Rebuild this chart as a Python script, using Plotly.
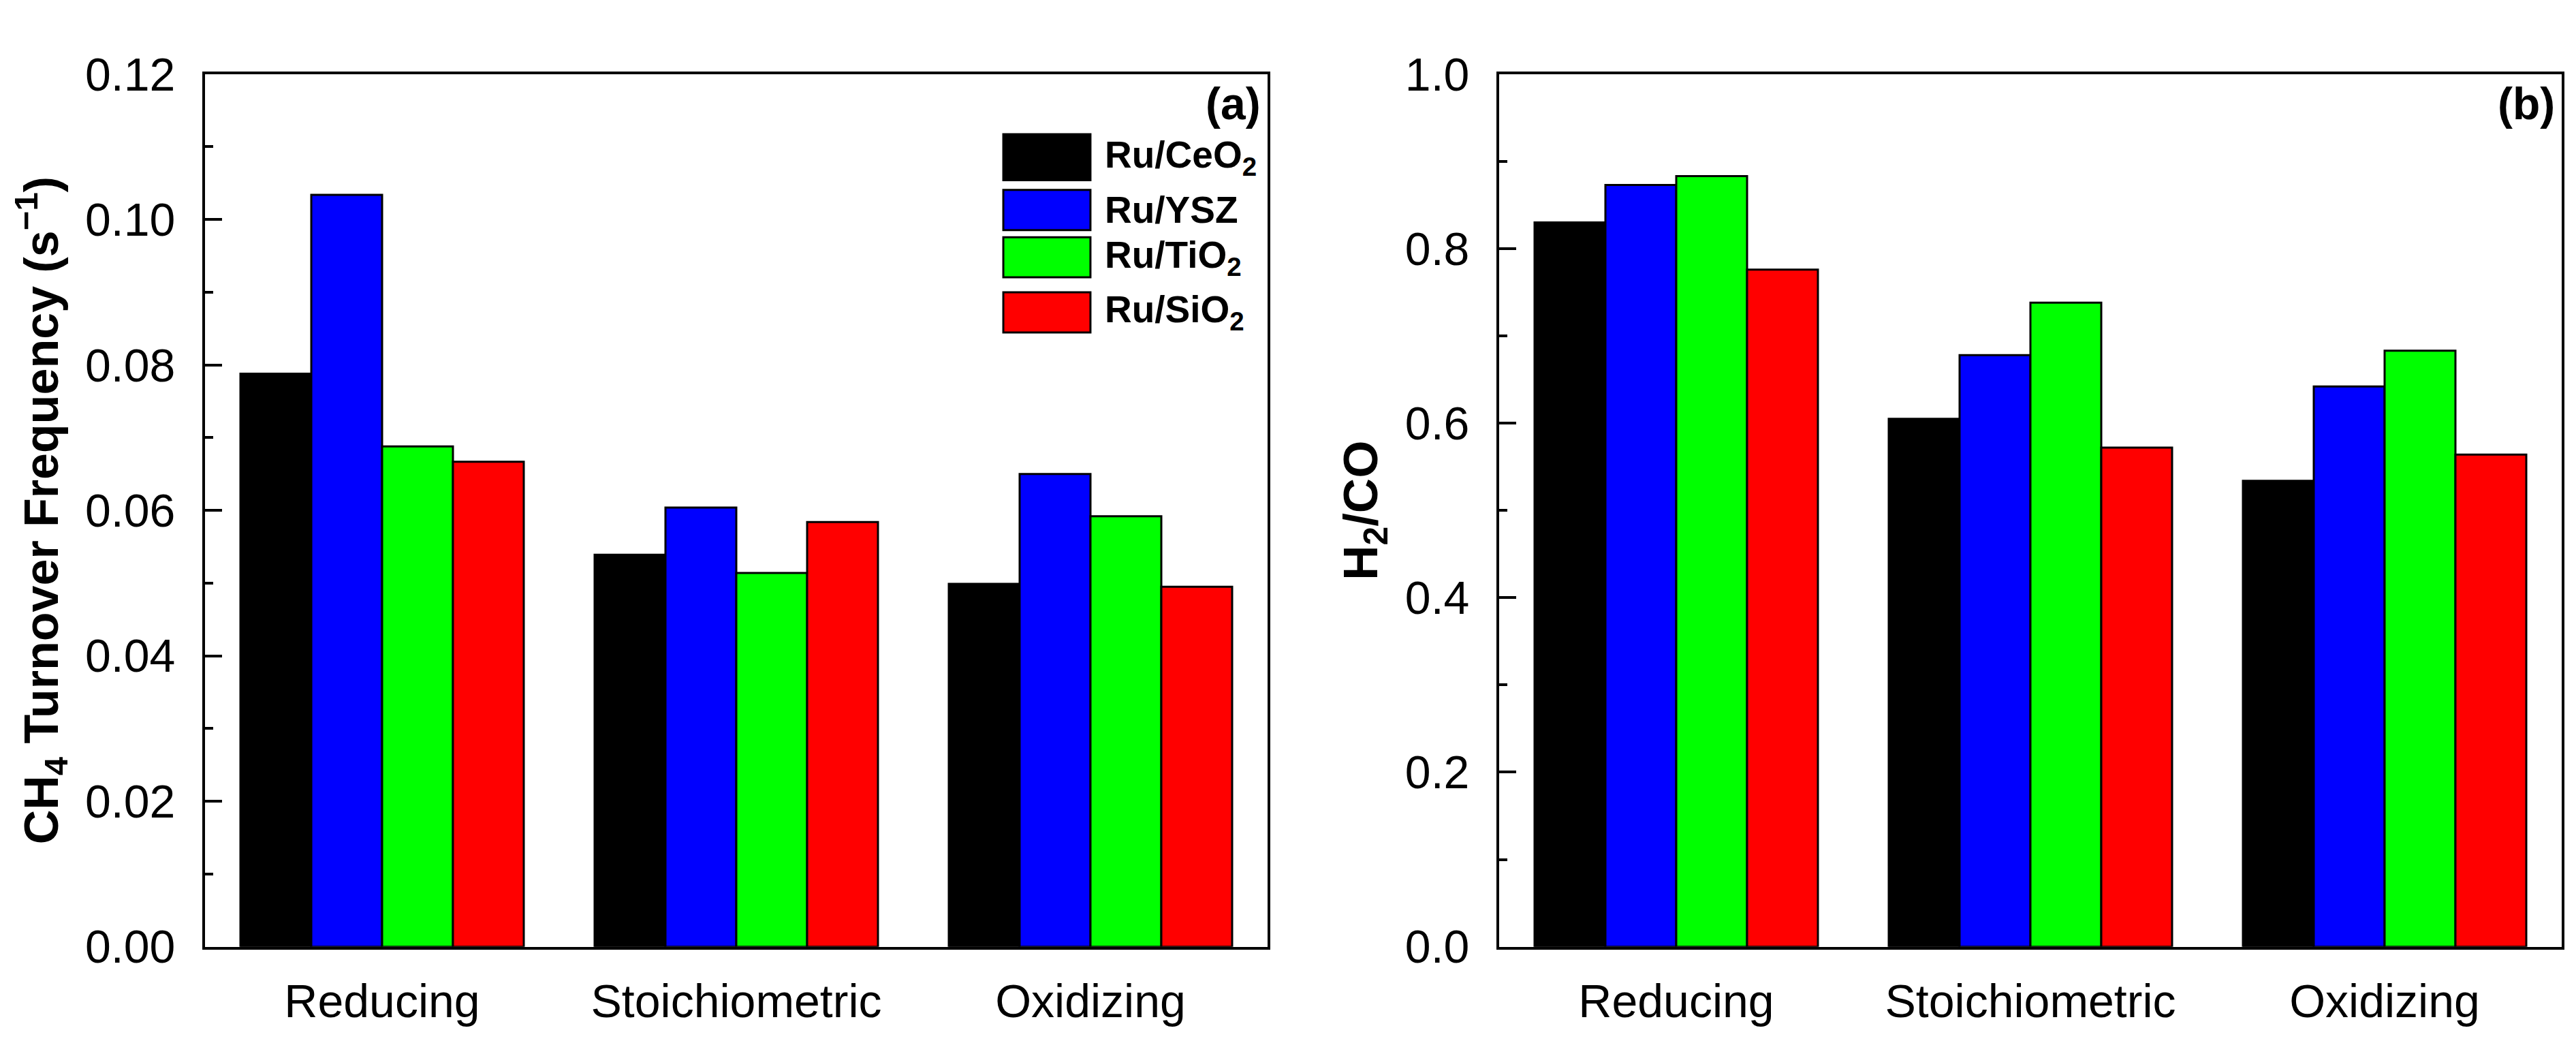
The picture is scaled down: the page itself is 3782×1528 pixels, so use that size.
import plotly.graph_objects as go
from plotly.subplots import make_subplots

conditions = ["Reducing", "Stoichiometric", "Oxidizing"]
catalysts = ["Ru/CeO<sub>2</sub>", "Ru/YSZ", "Ru/TiO<sub>2</sub>", "Ru/SiO<sub>2</sub>"]
colors = ["#000000", "#0000FF", "#00FF00", "#FF0000"]

# Panel (a): CH4 turnover frequency (s^-1)
tof_ceo2 = [0.0788, 0.0539, 0.0499]
tof_ysz = [0.1034, 0.0604, 0.0650]
tof_tio2 = [0.0688, 0.0514, 0.0592]
tof_sio2 = [0.0667, 0.0584, 0.0495]

# Panel (b): H2/CO ratio
h2co_ceo2 = [0.830, 0.605, 0.534]
h2co_ysz = [0.873, 0.678, 0.642]
h2co_tio2 = [0.883, 0.738, 0.683]
h2co_sio2 = [0.776, 0.572, 0.564]

tof = [tof_ceo2, tof_ysz, tof_tio2, tof_sio2]
h2co = [h2co_ceo2, h2co_ysz, h2co_tio2, h2co_sio2]

FONT = "Liberation Sans, Arial, sans-serif"
W, H = 3782, 1528

fig = make_subplots(rows=1, cols=2)
for i in range(4):
    fig.add_trace(go.Bar(x=conditions, y=tof[i], name=catalysts[i],
                         marker=dict(color=colors[i], line=dict(color="black", width=3)),
                         showlegend=False), row=1, col=1)
    fig.add_trace(go.Bar(x=conditions, y=h2co[i], name=catalysts[i],
                         marker=dict(color=colors[i], line=dict(color="black", width=3)),
                         showlegend=False), row=1, col=2)

ydom = [114 / H, 1462 / H]
fig.update_layout(
    width=W, height=H,
    margin=dict(l=0, r=0, t=0, b=0),
    paper_bgcolor="white", plot_bgcolor="white",
    barmode="group", bargap=0.2, bargroupgap=0,
    font=dict(family=FONT, color="black", size=68),
    xaxis=dict(domain=[293 / W, 1853 / W]),
    xaxis2=dict(domain=[2193 / W, 3753 / W]),
    yaxis=dict(domain=ydom),
    yaxis2=dict(domain=ydom),
)

common_x = dict(showline=True, linewidth=4, linecolor="black", mirror=True,
                ticks="", showgrid=False, range=[-0.5, 2.5],
                tickfont=dict(size=68, family=FONT), ticklabelstandoff=18)
fig.update_xaxes(**common_x)

common_y = dict(showline=True, linewidth=4, linecolor="black", mirror=True,
                ticks="inside", ticklen=25, tickwidth=4, tickcolor="black",
                showgrid=False, zeroline=False,
                tickfont=dict(size=68, family=FONT), ticklabelstandoff=26)
fig.update_yaxes(**common_y)
fig.update_yaxes(range=[0, 0.12], dtick=0.02, tickformat=".2f",
                 minor=dict(ticks="inside", ticklen=12, tickwidth=4, dtick=0.01, tickcolor="black"),
                 title=dict(text="<b>CH<sub>4</sub> Turnover Frequency (s<sup>\u22121</sup>)</b>",
                            font=dict(size=70, family=FONT), standoff=18),
                 row=1, col=1)
fig.update_yaxes(range=[0, 1.0], dtick=0.2, tickformat=".1f",
                 minor=dict(ticks="inside", ticklen=12, tickwidth=4, dtick=0.1, tickcolor="black"),
                 title=dict(text="<b>H<sub>2</sub>/CO</b>",
                            font=dict(size=71, family=FONT), standoff=18),
                 row=1, col=2)

# Panel labels
fig.add_annotation(text="<b>(a)</b>", xref="x domain", yref="y domain", x=0.995, y=0.966,
                   xanchor="right", yanchor="middle", showarrow=False,
                   font=dict(size=66, family=FONT))
fig.add_annotation(text="<b>(b)</b>", xref="x2 domain", yref="y2 domain", x=0.995, y=0.966,
                   xanchor="right", yanchor="middle", showarrow=False,
                   font=dict(size=66, family=FONT))

# Custom legend (large swatches) inside panel (a)
sw_x0, sw_x1, txt_x = 0.7513, 0.8333, 0.8455
rows_y = [(0.8783, 0.9310), (0.8212, 0.8672), (0.7671, 0.8131), (0.7040, 0.7500)]
for i in range(4):
    y0, y1 = rows_y[i]
    fig.add_shape(type="rect", xref="x domain", yref="y domain",
                  x0=sw_x0, x1=sw_x1, y0=y0, y1=y1,
                  fillcolor=colors[i], line=dict(color="black", width=3))
    fig.add_annotation(text="<b>" + catalysts[i] + "</b>", xref="x domain", yref="y domain",
                       x=txt_x, y=(y0 + y1) / 2, xanchor="left", yanchor="middle",
                       showarrow=False, font=dict(size=55, family=FONT))

fig.write_html("out.html")
